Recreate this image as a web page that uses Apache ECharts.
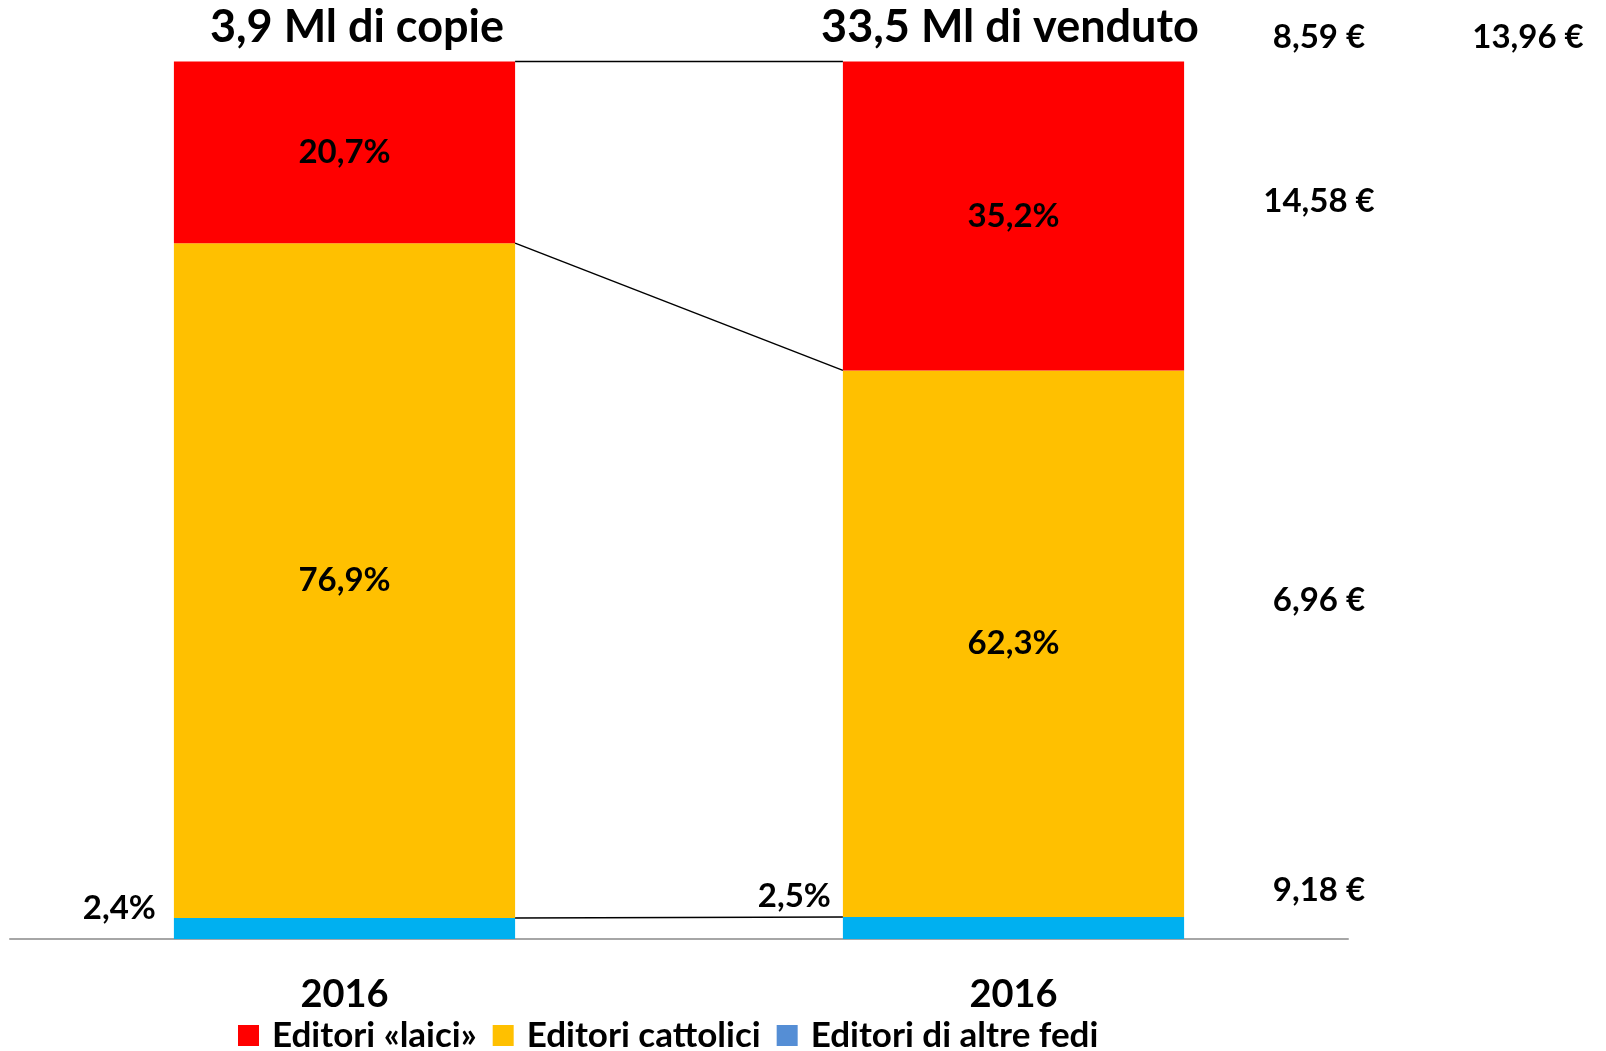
<!DOCTYPE html>
<html>
<head>
<meta charset="utf-8">
<script src="https://cdn.jsdelivr.net/npm/echarts@6/dist/echarts.min.js"></script>
<style>
  html, body { margin: 0; padding: 0; background: #fff; }
  #chart { width: 1606px; height: 1051px; }
</style>
</head>
<body>
<div id="chart"></div>
<script>
// dati
var anni = ['2016', '2016'];
var laici = [20.7, 35.2];
var cattolici = [76.9, 62.3];
var altreFedi = [2.4, 2.5];
var titoli = ['3,9 Ml di copie', '33,5 Ml di venduto'];
var prezzi = ['8,59 €', '13,96 €', '14,58 €', '6,96 €', '9,18 €'];

var FONT = 'Lato, "Open Sans", sans-serif';
var BAR_FRAC = 0.51;

function fmt(v) {
  return String(v).replace('.', ',') + '%';
}

// cumulative heights for the series lines between the two bars
var cumBlu = altreFedi;
var cumGiallo = altreFedi.map(function (v, i) { return +(v + cattolici[i]).toFixed(1); });
var cumRosso = cumGiallo.map(function (v, i) { return +(v + laici[i]).toFixed(1); });
var lineeSerie = [
  [0, cumBlu[0], cumBlu[1]],
  [0, cumGiallo[0], cumGiallo[1]],
  [0, cumRosso[0], cumRosso[1]]
];

var myChart = echarts.init(document.getElementById('chart'));

var labelBase = {
  show: true,
  color: '#000',
  fontFamily: FONT,
  fontWeight: 'bold',
  fontSize: 33
};

var bluOffsets = [[-6, -20], [0, -32]];

// posizioni dei testi liberi (titoli e prezzi)
var titoloPos = [[357, 27], [1010, 27]];
var prezziPos = [[1319, 37], [1528, 37], [1319, 201], [1319, 600], [1319, 890]];

var testi = [];
titoli.forEach(function (t, i) {
  testi.push({
    type: 'text', x: titoloPos[i][0], y: titoloPos[i][1],
    style: { text: t, font: 'bold 45px ' + FONT, fill: '#000', textAlign: 'center', textVerticalAlign: 'middle' }
  });
});
prezzi.forEach(function (t, i) {
  testi.push({
    type: 'text', x: prezziPos[i][0], y: prezziPos[i][1],
    style: { text: t, font: 'bold 33px ' + FONT, fill: '#000', textAlign: 'center', textVerticalAlign: 'middle' }
  });
});

option = {
  animation: false,
  grid: { left: 10, right: 258, top: 61.5, bottom: 112 },
  legend: {
    bottom: -7,
    left: 233,
    icon: 'rect',
    itemWidth: 21,
    itemHeight: 21,
    itemGap: 16,
    textStyle: { fontFamily: FONT, fontWeight: 'bold', fontSize: 35, color: '#000', padding: [0, 0, 0, 8] },
    data: [
      { name: 'Editori «laici»' },
      { name: 'Editori cattolici' },
      { name: 'Editori di altre fedi', itemStyle: { color: '#558ED5' } }
    ]
  },
  xAxis: {
    type: 'category',
    data: anni,
    axisLine: { lineStyle: { color: '#A6A6A6', width: 2 } },
    axisTick: { show: false },
    axisLabel: {
      margin: 37,
      color: '#000',
      fontFamily: FONT,
      fontWeight: 'bold',
      fontSize: 38
    }
  },
  yAxis: {
    type: 'value',
    min: 0,
    max: 100,
    show: false,
    splitLine: { show: false }
  },
  series: [
    {
      name: 'Editori di altre fedi',
      type: 'bar',
      stack: 'tot',
      barWidth: (BAR_FRAC * 100) + '%',
      itemStyle: { color: '#00B0F0' },
      data: altreFedi.map(function (v, i) {
        return {
          value: v,
          label: Object.assign({}, labelBase, {
            position: 'left',
            distance: 12,
            offset: bluOffsets[i],
            formatter: function (p) { return fmt(p.value); }
          })
        };
      })
    },
    {
      name: 'Editori cattolici',
      type: 'bar',
      stack: 'tot',
      itemStyle: { color: '#FFC000' },
      label: Object.assign({}, labelBase, {
        position: 'inside',
        formatter: function (p) { return fmt(p.value); }
      }),
      data: cattolici
    },
    {
      name: 'Editori «laici»',
      type: 'bar',
      stack: 'tot',
      itemStyle: { color: '#FF0000' },
      label: Object.assign({}, labelBase, {
        position: 'inside',
        formatter: function (p) { return fmt(p.value); }
      }),
      data: laici
    },
    {
      name: 'linee',
      type: 'custom',
      silent: true,
      z: 5,
      encode: { x: 0, y: [1, 2] },
      data: lineeSerie,
      renderItem: function (params, api) {
        var half = api.size([1, 0])[0] * BAR_FRAC / 2;
        var p1 = api.coord([0, api.value(1)]);
        var p2 = api.coord([1, api.value(2)]);
        return {
          type: 'line',
          shape: { x1: p1[0] + half, y1: p1[1], x2: p2[0] - half, y2: p2[1] },
          style: { stroke: '#000', lineWidth: 1.5 }
        };
      }
    }
  ],
  graphic: testi
};

myChart.setOption(option, true);
</script>
</body>
</html>
